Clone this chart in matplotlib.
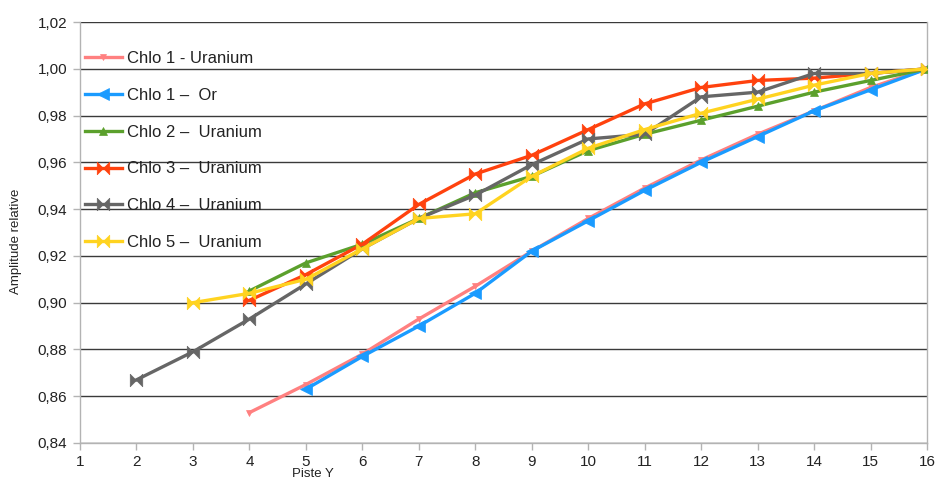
import matplotlib
matplotlib.use("Agg")
import matplotlib.pyplot as plt
from matplotlib.path import Path
from matplotlib.ticker import FuncFormatter, MultipleLocator

plt.rcParams["font.family"] = ["Liberation Sans", "DejaVu Sans"]

# data
piste = list(range(1, 17))

chlo1_u_x = list(range(4, 17))
chlo1_u = [0.853, 0.865, 0.878, 0.893, 0.907, 0.922, 0.936, 0.949, 0.961, 0.972, 0.982, 0.992, 1.000]

chlo1_or_x = list(range(5, 17))
chlo1_or = [0.863, 0.877, 0.890, 0.904, 0.922, 0.935, 0.948, 0.960, 0.971, 0.982, 0.991, 1.000]

chlo2_x = list(range(4, 17))
chlo2 = [0.905, 0.917, 0.925, 0.936, 0.947, 0.954, 0.965, 0.972, 0.978, 0.984, 0.990, 0.995, 1.000]

chlo3_x = list(range(4, 17))
chlo3 = [0.901, 0.912, 0.925, 0.942, 0.955, 0.963, 0.974, 0.985, 0.992, 0.995, 0.996, 0.998, 1.000]

chlo4_x = list(range(2, 17))
chlo4 = [0.867, 0.879, 0.893, 0.908, 0.923, 0.936, 0.946, 0.959, 0.970, 0.972, 0.988, 0.990, 0.998, 0.998, 1.000]

chlo5_x = list(range(3, 17))
chlo5 = [0.900, 0.904, 0.910, 0.923, 0.936, 0.938, 0.954, 0.966, 0.974, 0.981, 0.987, 0.993, 0.998, 1.000]

labels = ["Chlo 1 - Uranium", "Chlo 1 \u2013  Or", "Chlo 2 \u2013  Uranium",
          "Chlo 3 \u2013  Uranium", "Chlo 4 \u2013  Uranium", "Chlo 5 \u2013  Uranium"]
colors = ["#ff8080", "#1a9bff", "#5ba02c", "#ff420e", "#666666", "#ffd320"]

bowtie = Path([(-1, -1), (1, 1), (1, -1), (-1, 1), (-1, -1)],
              [Path.MOVETO, Path.LINETO, Path.LINETO, Path.LINETO, Path.CLOSEPOLY])

series = [
    (chlo1_u_x, chlo1_u, "v", 5),
    (chlo1_or_x, chlo1_or, "<", 8),
    (chlo2_x, chlo2, "^", 6),
    (chlo3_x, chlo3, bowtie, 9),
    (chlo4_x, chlo4, bowtie, 9),
    (chlo5_x, chlo5, bowtie, 9),
]

fig = plt.figure(figsize=(9.35, 4.82), dpi=100)
ax = fig.add_axes([80 / 935, 1 - 443 / 482, 847 / 935, 421 / 482])

for (xs, ys, mk, ms), lab, col in zip(series, labels, colors):
    ax.plot(xs, ys, color=col, lw=2.4, marker=mk, markersize=ms,
            markeredgewidth=0.5, markeredgecolor=col, label=lab, zorder=3)

ax.set_xlim(1, 16)
ax.set_ylim(0.84, 1.02)
ax.xaxis.set_major_locator(MultipleLocator(1))
ax.yaxis.set_major_locator(MultipleLocator(0.02))
ax.yaxis.set_major_formatter(FuncFormatter(lambda v, p: f"{v:.2f}".replace(".", ",")))
ax.grid(axis="y", color="#3a3a3a", lw=1.0, zorder=1)
ax.set_axisbelow(True)

for s in ["left", "bottom", "right"]:
    ax.spines[s].set_color("#b3b3b3")
    ax.spines[s].set_linewidth(1.0)
ax.spines["top"].set_visible(False)
ax.tick_params(axis="both", direction="out", length=5, width=1, color="#b3b3b3",
               labelsize=11, labelcolor="#222222", pad=4)

fig.text(16 / 935, 1 - 241 / 482, "Amplitude relative", rotation=90,
         ha="center", va="center", fontsize=9.5, color="#222222")
fig.text(313 / 935, 1 - 474 / 482, "Piste Y", ha="center", va="center",
         fontsize=9.5, color="#222222")

leg = ax.legend(loc="upper left", bbox_to_anchor=(0.0, 0.943), frameon=False,
                fontsize=12, handlelength=2.2, handletextpad=0.3,
                labelspacing=1.31, borderaxespad=0.0, borderpad=0.3)
for t in leg.get_texts():
    t.set_color("#222222")

fig.savefig("out.png", dpi=100)
